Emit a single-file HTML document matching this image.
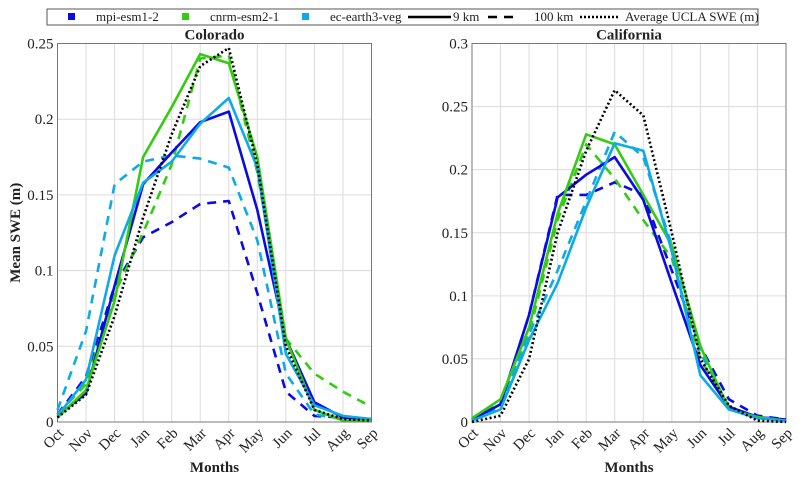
<!DOCTYPE html>
<html><head><meta charset="utf-8"><style>
body{margin:0;background:#fff}
svg text{font-family:"Liberation Serif",serif;fill:#222}
</style></head><body>
<svg id="c" width="804" height="482" viewBox="0 0 804 482" xmlns="http://www.w3.org/2000/svg">
<g id="legend">
<rect x="47" y="9" width="711" height="16" fill="#fff" stroke="#555" stroke-width="1"/>
<rect x="68" y="13" width="7" height="7" fill="#0a0ae6"/>
<text x="96" y="21" font-size="13">mpi-esm1-2</text>
<rect x="182" y="13" width="7" height="7" fill="#33cc11"/>
<text x="210" y="21" font-size="13">cnrm-esm2-1</text>
<rect x="302" y="13" width="7" height="7" fill="#0daae8"/>
<text x="330" y="21" font-size="13">ec-earth3-veg</text>
<line x1="408" y1="17" x2="451" y2="17" stroke="#000" stroke-width="2.5"/>
<text x="453" y="21" font-size="13">9 km</text>
<line x1="488" y1="17" x2="520" y2="17" stroke="#000" stroke-width="2.5" stroke-dasharray="9 7"/>
<text x="534" y="21" font-size="13">100 km</text>
<line x1="580" y1="17" x2="619" y2="17" stroke="#000" stroke-width="2.5" stroke-dasharray="2 2"/>
<text x="625" y="21" font-size="13">Average UCLA SWE (m)</text>
</g>
</svg>
<script>
const months=["Oct","Nov","Dec","Jan","Feb","Mar","Apr","May","Jun","Jul","Aug","Sep"];
const coYTicks=[0,0.05,0.1,0.15,0.2,0.25];
const caYTicks=[0,0.05,0.1,0.15,0.2,0.25,0.3];
const coMpi9=[0.004,0.019,0.09,0.157,0.178,0.198,0.205,0.14,0.055,0.013,0.003,0.002];
const coMpi100=[0.005,0.03,0.09,0.122,0.132,0.144,0.146,0.085,0.02,0.004,0.003,0.002];
const coCnrm9=[0.003,0.021,0.08,0.175,0.208,0.243,0.237,0.175,0.055,0.008,0.001,0.001];
const coCnrm100=[0.005,0.025,0.085,0.125,0.17,0.24,0.242,0.165,0.055,0.032,0.02,0.01];
const coEc9=[0.004,0.028,0.11,0.158,0.172,0.197,0.214,0.168,0.045,0.011,0.004,0.002];
const coEc100=[0.008,0.06,0.157,0.172,0.176,0.174,0.168,0.12,0.032,0.005,0.002,0.001];
const coUcla=[0.003,0.018,0.07,0.135,0.19,0.235,0.247,0.17,0.05,0.008,0.002,0.001];
const caMpi9=[0.002,0.014,0.085,0.178,0.196,0.21,0.176,0.11,0.045,0.012,0.004,0.002];
const caMpi100=[0.002,0.013,0.085,0.18,0.18,0.19,0.18,0.12,0.06,0.018,0.005,0.002];
const caCnrm9=[0.003,0.018,0.075,0.165,0.228,0.22,0.18,0.14,0.06,0.01,0.004,0.001];
const caCnrm100=[0.002,0.015,0.07,0.16,0.22,0.193,0.16,0.13,0.05,0.012,0.004,0.001];
const caEc9=[0.001,0.01,0.065,0.11,0.17,0.221,0.215,0.135,0.037,0.01,0.003,0.001];
const caEc100=[0.002,0.012,0.07,0.12,0.175,0.23,0.21,0.14,0.055,0.012,0.004,0.001];
const caUcla=[0,0.005,0.05,0.15,0.215,0.263,0.243,0.15,0.05,0.013,0.001,0];

const NS="http://www.w3.org/2000/svg";
const svg=document.getElementById('c');
function mk(t,a,p){const e=document.createElementNS(NS,t);for(const k in a)e.setAttribute(k,a[k]);(p||svg).appendChild(e);return e;}

function panel(key,title,x0,x1,yTop,yBot,ymax,ticks,series,showYTitle){
  const g=mk('g',{});
  
  
  const xs=i=>x0+(x1-x0)*i/(months.length-1);
  const ys=v=>yBot-(yBot-yTop)*v/ymax;
  ticks.forEach(t=>{
    const l=mk('line',{x1:x0,x2:x1,y1:ys(t),y2:ys(t),stroke:'#dcdcdc','stroke-width':1},g);
    
    
    const tx=mk('text',{x:x0-4,y:ys(t)+5,'font-size':15,'text-anchor':'end'},g);
    tx.textContent=String(t);
    
    
  });
  months.forEach((m,i)=>{
    const l=mk('line',{x1:xs(i),x2:xs(i),y1:yTop,y2:yBot,stroke:'#dcdcdc','stroke-width':1},g);
    
    
    const tx=mk('text',{x:xs(i)+7,y:yBot+12,'font-size':15,'text-anchor':'end',transform:`rotate(-45 ${xs(i)+7} ${yBot+12})`},g);
    tx.textContent=m;
    
    
  });
  const box=mk('rect',{x:x0,y:yTop,width:x1-x0,height:yBot-yTop,fill:'none',stroke:'#777','stroke-width':1},g);
  
  
  series.forEach(s=>{
    const d=s.v.map((v,i)=>(i?'L':'M')+xs(i).toFixed(1)+' '+ys(v).toFixed(1)).join(' ');
    const p=mk('path',{d:d,fill:'none',stroke:s.c,'stroke-width':2.6,'stroke-dasharray':s.dash||'none','stroke-linejoin':'round'},g);
    
    
  });
  const tt=mk('text',{x:(x0+x1)/2,y:yTop-4,'font-size':15,'font-weight':'bold','text-anchor':'middle'},g);
  tt.textContent=title;
  
  
  const xt=mk('text',{x:(x0+x1)/2,y:472,'font-size':15,'font-weight':'bold','text-anchor':'middle'},g);
  xt.textContent='Months';
  
  
  if(showYTitle){
    const yt=mk('text',{x:20,y:(yTop+yBot)/2,'font-size':15,'font-weight':'bold','text-anchor':'middle',transform:`rotate(-90 20 ${(yTop+yBot)/2})`},g);
    yt.textContent='Mean SWE (m)';
    
    
  }
}
const B='#0a0ae6',G='#33cc11',C='#0daae8',D='9 7',DOT='2 2.5';
panel('colorado','Colorado',57.5,371.5,43.5,422,0.25,coYTicks,[
 {n:'mpi-100km',v:coMpi100,c:B,dash:D},{n:'cnrm-100km',v:coCnrm100,c:G,dash:D},{n:'ec-100km',v:coEc100,c:C,dash:D},
 {n:'mpi-9km',v:coMpi9,c:B},{n:'cnrm-9km',v:coCnrm9,c:G},{n:'ec-9km',v:coEc9,c:C},
 {n:'ucla',v:coUcla,c:'#000',dash:DOT}],true);
panel('california','California',472,786,43.5,422,0.3,caYTicks,[
 {n:'mpi-100km',v:caMpi100,c:B,dash:D},{n:'cnrm-100km',v:caCnrm100,c:G,dash:D},{n:'ec-100km',v:caEc100,c:C,dash:D},
 {n:'mpi-9km',v:caMpi9,c:B},{n:'cnrm-9km',v:caCnrm9,c:G},{n:'ec-9km',v:caEc9,c:C},
 {n:'ucla',v:caUcla,c:'#000',dash:DOT}],false);
svg.appendChild(document.getElementById('legend'));
</script>
</body></html>
